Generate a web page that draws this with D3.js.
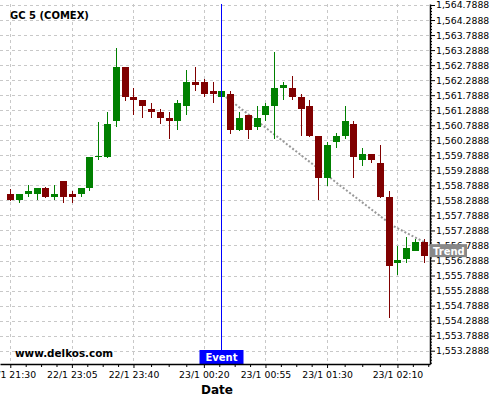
<!DOCTYPE html>
<html>
<head>
<meta charset="utf-8">
<script src="https://cdn.jsdelivr.net/npm/d3@7"></script>
<style>
  html, body { margin: 0; padding: 0; background: #fff; }
  svg { display: block; }
  text { font-family: "DejaVu Sans", sans-serif; }
</style>
</head>
<body>
<div id="chart"></div>
<script>
// ---------- data ----------
const title = "GC 5 (COMEX)";
const watermark = "www.delkos.com";
const xAxisTitle = "Date";
const opens  = [1558.50,1558.30,1558.51,1558.51,1558.70,1558.41,1558.93,1558.50,1558.51,1558.71,
                1559.74,1559.74,1560.94,1562.73,1561.73,1561.63,1561.33,1561.23,1561.03,1560.94,
                1561.44,1562.23,1562.23,1561.93,1561.74,1561.83,1560.63,1561.13,1560.74,1561.13,
                1561.43,1562.03,1562.03,1561.73,1561.43,1560.43,1559.04,1560.24,1560.44,1560.83,
                1559.63,1559.83,1559.53,1558.40,1556.22,1556.33,1556.62,1556.90];
const highs  = [1558.67,1558.50,1558.79,1558.70,1558.72,1558.79,1558.94,1558.60,1558.71,1559.74,
                1560.91,1561.23,1563.35,1562.73,1562.02,1561.63,1561.52,1561.33,1561.22,1561.63,
                1562.62,1562.73,1562.32,1562.23,1561.96,1561.93,1561.23,1561.13,1561.43,1561.53,
                1563.23,1562.23,1562.43,1561.83,1561.63,1560.43,1560.22,1560.52,1561.43,1560.93,
                1560.02,1559.84,1560.12,1558.59,1556.78,1557.08,1557.01,1557.01];
const lows   = [1558.27,1558.19,1558.39,1558.29,1558.38,1558.29,1558.19,1558.19,1558.39,1558.59,
                1559.63,1559.71,1560.72,1561.61,1561.12,1561.02,1561.02,1560.83,1560.32,1560.62,
                1561.12,1561.92,1561.72,1561.52,1561.71,1560.50,1560.60,1560.32,1560.62,1560.93,
                1560.32,1561.63,1561.63,1560.42,1560.41,1558.29,1558.78,1560.02,1560.33,1559.02,
                1559.43,1559.52,1558.38,1554.37,1555.81,1556.20,1556.59,1556.20];
const closes = [1558.30,1558.50,1558.60,1558.70,1558.40,1558.50,1558.41,1558.41,1558.70,1559.73,
                1559.78,1560.83,1562.73,1561.74,1561.64,1561.44,1561.24,1561.04,1560.94,1561.53,
                1562.23,1562.14,1561.84,1561.84,1561.93,1560.63,1561.03,1560.63,1561.03,1561.43,
                1562.03,1562.13,1561.73,1561.33,1560.43,1559.04,1560.13,1560.44,1560.93,1559.74,
                1559.83,1559.64,1558.40,1556.12,1556.31,1556.71,1556.90,1556.44];
const xTickIndex  = [0, 7, 14, 22, 29, 36, 44];
const xTickLabels = ["22/1 21:30","22/1 23:05","22/1 23:40","23/1 00:20","23/1 00:55","23/1 01:30","23/1 02:10"];
const yTicks = [1553.2888,1553.7888,1554.2888,1554.7888,1555.2888,1555.7888,1556.2888,1556.7888,
                1557.2888,1557.7888,1558.2888,1558.7888,1559.2888,1559.7888,1560.2888,1560.7888,
                1561.2888,1561.7888,1562.2888,1562.7888,1563.2888,1563.7888,1564.2888,1564.7888];
const eventIndex = 24;
const eventLabel = "Event";
const trendIndex = [24.5, 29.1, 37.5, 43.5, 47.7];
const trendValue = [1561.73, 1560.69, 1558.78, 1557.44, 1556.80];
const trendLabel = "Trend";

// ---------- layout ----------
const W = 500, H = 400;
const plot = { left: 0, right: 430, top: 4, bottom: 364 };
const upColor = "#008000", downColor = "#800000";

const svg = d3.select("#chart").append("svg").attr("width", W).attr("height", H);
svg.append("rect").attr("width", W).attr("height", H).attr("fill", "#fff");

const x = d3.scaleLinear().domain([-1.17, 47.7]).range([plot.left, plot.right]);
const y = d3.scaleLinear().domain([1552.846, 1564.822]).range([plot.bottom, plot.top]);

const clip = svg.append("clipPath").attr("id", "clip").append("rect")
  .attr("x", plot.left).attr("y", plot.top)
  .attr("width", plot.right - plot.left).attr("height", plot.bottom - plot.top);

// grid
const grid = svg.append("g").attr("stroke", "#c8c8c8").attr("stroke-dasharray", "3,3")
  .attr("shape-rendering", "crispEdges");
grid.selectAll("line.h").data(yTicks).join("line").attr("class", "h")
  .attr("x1", plot.left).attr("x2", plot.right)
  .attr("y1", d => Math.round(y(d)) + 0.5).attr("y2", d => Math.round(y(d)) + 0.5);
grid.selectAll("line.v").data(xTickIndex).join("line").attr("class", "v")
  .attr("y1", plot.top).attr("y2", plot.bottom)
  .attr("x1", d => Math.round(x(d)) + 0.5).attr("x2", d => Math.round(x(d)) + 0.5);

// title & watermark
svg.append("text").attr("x", 10).attr("y", 19).attr("font-size", 10).attr("font-weight", "bold")
  .attr("fill", "#000").text(title);
svg.append("text").attr("x", 15).attr("y", 357).attr("font-size", 10.4).attr("font-weight", "bold")
  .attr("fill", "#000").text(watermark);

// trend line
const trendData = trendIndex.map((d, i) => [d, trendValue[i]]);
svg.append("path").datum(trendData)
  .attr("d", d3.line().x(d => x(d[0])).y(d => y(d[1])))
  .attr("fill", "none").attr("stroke", "#999").attr("stroke-width", 2)
  .attr("stroke-dasharray", "2,2");

// candles
const candles = opens.map((o, i) => ({ i, o, h: highs[i], l: lows[i], c: closes[i] }));
const cg = svg.append("g").attr("clip-path", "url(#clip)").attr("shape-rendering", "crispEdges");
const bodyW = 7;
cg.selectAll("line.wick").data(candles).join("line").attr("class", "wick")
  .attr("x1", d => Math.round(x(d.i)) + 0.5).attr("x2", d => Math.round(x(d.i)) + 0.5)
  .attr("y1", d => y(d.h)).attr("y2", d => y(d.l))
  .attr("stroke", d => d.c >= d.o ? upColor : downColor).attr("stroke-width", 1.2);
cg.selectAll("rect.body").data(candles).join("rect").attr("class", "body")
  .attr("x", d => Math.round(x(d.i)) - 3)
  .attr("width", bodyW)
  .attr("y", d => y(Math.max(d.o, d.c)))
  .attr("height", d => Math.max(1.2, Math.abs(y(d.o) - y(d.c))))
  .attr("fill", d => d.c >= d.o ? upColor : downColor);

// event line
const ex = Math.round(x(eventIndex)) + 0.5;
svg.append("line").attr("x1", ex).attr("x2", ex).attr("y1", plot.top).attr("y2", 350)
  .attr("stroke", "#0000ff").attr("stroke-width", 1).attr("shape-rendering", "crispEdges");
svg.append("rect").attr("x", ex - 22).attr("y", 350).attr("width", 44).attr("height", 14)
  .attr("fill", "#0000ff");
svg.append("text").attr("x", ex).attr("y", 361).attr("text-anchor", "middle")
  .attr("font-size", 10).attr("font-weight", "bold").attr("fill", "#fff").text(eventLabel);

// y axis (right)
const yMinor = [];
yTicks.forEach(t => { for (let k = -4; k <= 4; k++) { const v = t + k * 0.1; if (k % 5 !== 0) yMinor.push(v); } });
const yMinorIn = Array.from(new Set(yMinor.map(v => v.toFixed(4)))).map(Number)
  .filter(v => y(v) >= plot.top && y(v) <= plot.bottom);
const yAxisMinor = svg.append("g").attr("transform", `translate(${plot.right},0)`)
  .call(d3.axisRight(y).tickValues(yMinorIn).tickSize(2).tickSizeOuter(0).tickFormat(""));
yAxisMinor.select(".domain").remove();
const yAxis = svg.append("g").attr("transform", `translate(${plot.right},0)`)
  .call(d3.axisRight(y).tickValues(yTicks).tickSize(5).tickSizeOuter(0).tickPadding(1)
    .tickFormat(d3.format(",.4f")));
yAxis.selectAll("text").attr("font-size", 9.3).attr("fill", "#000")
  .attr("font-family", "DejaVu Sans, sans-serif");
yAxis.select(".domain").attr("stroke-width", 1.5);

// x axis (bottom)
const xMinor = [];
for (let k = 0; k < xTickIndex.length - 1; k++) {
  const a = xTickIndex[k], b = xTickIndex[k + 1];
  for (let q = 1; q < 4; q++) xMinor.push(a + (b - a) * q / 4);
}
const last = xTickIndex[xTickIndex.length - 1];
xMinor.push(last + 1.75, last + 3.5);
const xAxisMinor = svg.append("g").attr("transform", `translate(0,${plot.bottom})`)
  .call(d3.axisBottom(x).tickValues(xMinor).tickSize(3).tickSizeOuter(0).tickFormat(""));
xAxisMinor.select(".domain").remove();
const xAxis = svg.append("g").attr("transform", `translate(0,${plot.bottom})`)
  .call(d3.axisBottom(x).tickValues(xTickIndex).tickSize(4).tickSizeOuter(0).tickPadding(3)
    .tickFormat((d, i) => xTickLabels[i]));
xAxis.selectAll("text").attr("font-size", 9.3).attr("fill", "#000")
  .attr("font-family", "DejaVu Sans, sans-serif");
xAxis.select(".domain").attr("stroke-width", 1.5);

svg.append("text").attr("x", 217).attr("y", 394).attr("text-anchor", "middle")
  .attr("font-size", 12).attr("font-weight", "bold").attr("fill", "#000").text(xAxisTitle);

// trend label
const tv = trendValue[trendValue.length - 1];
const ty = y(tv);
svg.append("rect").attr("x", plot.right).attr("y", ty - 1).attr("width", 37).attr("height", 13)
  .attr("fill", "#888");
svg.append("text").attr("x", plot.right + 3).attr("y", ty + 9.5)
  .attr("font-size", 10).attr("font-weight", "bold").attr("fill", "#fff").text(trendLabel);
</script>
</body>
</html>
